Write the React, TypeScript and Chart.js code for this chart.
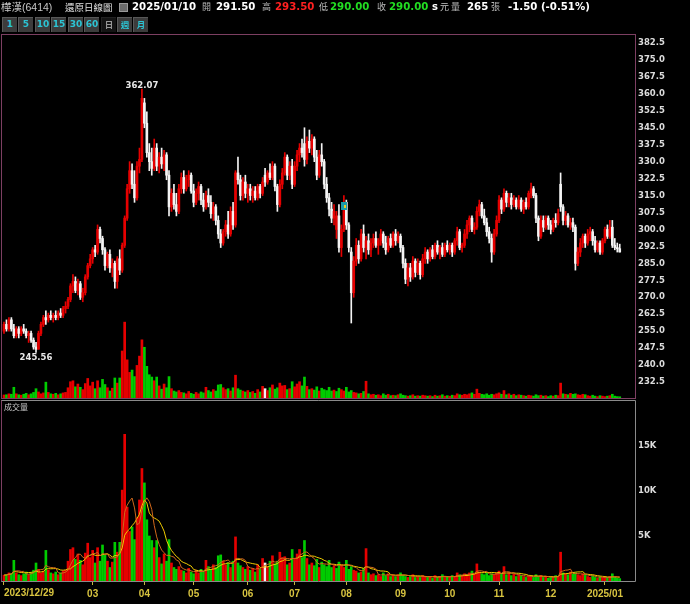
import React, { useEffect, useRef } from "react";
import { Chart, registerables } from "chart.js";

Chart.register(...registerables);

// ---------------- data ----------------
const MONTH_LABELS = ["2023/12/29", "", "", "03", "04", "05", "06", "07", "08", "09", "10", "11", "12", "2025/01"];
const MONTH_DAYS = [1, 22, 13, 21, 20, 22, 19, 21, 22, 20, 20, 21, 22, 7];

const OPEN = [
  255, 258, 256, 260, 256, 253, 256, 254, 256, 255,
  253, 254, 251, 248, 247, 254, 258, 261, 260, 262,
  261, 262, 261, 263, 262, 265, 266, 269, 275, 277,
  273, 276, 270, 272, 279, 284, 287, 291, 290, 300,
  296, 291, 284, 289, 283, 285, 277, 287, 282, 293,
  305, 318, 326, 320, 314, 328, 331, 356, 347, 334,
  330, 327, 336, 328, 332, 329, 333, 324, 310, 316,
  311, 308, 318, 323, 318, 322, 324, 317, 312, 316,
  319, 313, 310, 315, 312, 307, 310, 304, 298, 294,
  299, 302, 298, 308, 302, 325, 322, 315, 321, 316,
  318, 315, 317, 314, 319, 316, 324, 321, 325, 323,
  328, 319, 311, 320, 325, 332, 324, 328, 320, 328,
  333, 336, 338, 331, 339, 336, 340, 332, 324, 333,
  330, 320, 314, 309, 305, 300, 306, 292, 300, 312,
  302, 290, 272, 286, 293, 287, 298, 292, 295, 291,
  294, 296, 293, 295, 298, 294, 291, 296, 293, 298,
  295, 297, 292, 285, 278, 283, 279, 286, 281, 285,
  280, 287, 290, 287, 291, 288, 293, 290, 292, 289,
  293, 291, 293, 290, 295, 299, 292, 293, 298, 302,
  305, 300, 301, 308, 311, 306, 303, 299, 296, 290,
  298, 304, 313, 309, 316, 312, 314, 311, 313, 310,
  313, 309, 312, 310, 316, 318, 315, 305, 297, 304,
  301, 305, 302, 300, 304, 303, 320, 310, 304, 306,
  302, 303, 301, 285, 290, 294, 297, 294, 298, 299,
  295, 291, 294, 290, 295, 300, 297, 301, 293, 292,
  291.5,
];
const HIGH = [
  259, 260, 261, 261, 258, 257, 257, 257, 258, 256,
  255, 255, 252, 250, 255, 259, 262, 264, 263, 264,
  263, 264, 264, 265, 266, 268, 270, 276, 280, 279,
  278, 277, 274, 280, 285, 289, 292, 293, 302, 301,
  297, 292, 290, 291, 287, 286, 288, 291, 294, 306,
  320, 330, 329, 326, 330, 336, 362.07, 358, 352, 338,
  336, 340, 338, 334, 336, 335, 334, 326, 318, 320,
  316, 320, 325, 326, 324, 326, 325, 320, 318, 321,
  320, 316, 317, 318, 315, 312, 311, 306, 300, 300,
  304, 308, 310, 312, 326, 332, 324, 323, 324, 320,
  320, 319, 319, 320, 320, 323, 327, 326, 329, 330,
  329, 320, 322, 327, 334, 333, 330, 331, 330, 335,
  338, 340, 345, 341, 344, 342, 341, 335, 335, 338,
  331, 323, 316, 312, 311, 308, 311, 302, 315, 313,
  303, 292, 288, 296, 295, 300, 302, 297, 298, 296,
  298, 299, 296, 300, 299, 297, 297, 298, 299, 300,
  299, 298, 293, 287, 285, 285, 288, 287, 287, 286,
  289, 292, 291, 292, 293, 294, 295, 293, 294, 294,
  295, 294, 294, 296, 301, 300, 294, 300, 304, 306,
  306, 303, 310, 313, 312, 309, 305, 301, 298, 300,
  306, 315, 314, 318, 317, 316, 316, 315, 314, 315,
  314, 313, 314, 317, 320.5, 319, 316, 306, 306, 306,
  306, 306, 304, 305, 307, 309, 325, 311, 308, 307,
  305, 305, 302, 292, 296, 298, 298, 300, 301, 300,
  297, 295, 295, 296, 301, 302, 304, 304, 296, 294,
  293.5,
];
const LOW = [
  254, 255, 255, 255, 252, 252, 252, 253, 254, 252,
  250, 250, 247, 245.56, 247, 253, 257, 258, 259, 260,
  259, 260, 260, 261, 261, 263, 265, 268, 272, 272,
  271, 269, 268, 271, 278, 283, 285, 288, 289, 294,
  289, 282, 283, 281, 279, 274, 274, 280, 281, 292,
  304, 316, 318, 312, 313, 325, 330, 345, 332, 326,
  324, 326, 326, 325, 327, 326, 322, 306, 308, 309,
  306, 307, 316, 316, 317, 319, 316, 310, 311, 313,
  311, 308, 309, 310, 305, 304, 302, 296, 292, 293,
  297, 296, 297, 300, 301, 320, 313, 313, 314, 312,
  313, 312, 313, 313, 314, 315, 319, 320, 322, 322,
  317, 308, 310, 318, 324, 322, 322, 318, 319, 326,
  330, 332, 328, 329, 334, 333, 330, 322, 323, 328,
  318, 312, 306, 303, 302, 296, 290, 288, 299, 300,
  290, 258.6, 270, 284, 285, 286, 290, 287, 289, 288,
  292, 292, 289, 293, 292, 289, 290, 292, 292, 293,
  294, 290, 283, 276, 275, 277, 278, 279, 280, 278,
  279, 285, 285, 286, 287, 287, 289, 287, 288, 288,
  290, 289, 288, 289, 293, 291, 290, 292, 296, 299,
  299, 298, 300, 306, 305, 302, 297, 294, 285.5, 289,
  297, 303, 307, 308, 310, 310, 309, 310, 309, 309,
  308, 307, 309, 309, 314, 314, 303, 295, 296, 299,
  300, 300, 298, 299, 301, 302, 308, 302, 302, 301,
  300, 299, 282, 284, 288, 292, 292, 293, 295, 293,
  290, 290, 289, 289, 294, 296, 296, 292, 291, 290,
  290,
];
const CLOSE = [
  258, 256, 260, 256, 253, 256, 254, 256, 255, 253,
  254, 251, 248, 247, 254, 258, 261, 260, 262, 261,
  262, 261, 263, 262, 265, 266, 269, 275, 277, 273,
  276, 270, 272, 279, 284, 287, 291, 290, 300, 296,
  291, 284, 289, 283, 285, 277, 287, 282, 293, 305,
  318, 326, 320, 314, 328, 331, 358, 347, 334, 330,
  327, 336, 328, 332, 329, 333, 324, 310, 316, 311,
  308, 318, 323, 318, 322, 324, 317, 312, 316, 319,
  313, 310, 315, 312, 307, 310, 304, 298, 294, 299,
  302, 298, 308, 302, 325, 322, 315, 321, 316, 318,
  315, 317, 314, 319, 316, 321, 321, 325, 323, 328,
  319, 311, 320, 325, 332, 324, 328, 320, 328, 333,
  336, 334, 331, 339, 336, 340, 332, 324, 333, 330,
  320, 314, 309, 305, 308, 306, 292, 300, 312, 302,
  292, 272, 286, 293, 287, 298, 292, 295, 291, 294,
  296, 293, 295, 298, 294, 291, 296, 293, 298, 295,
  297, 292, 285, 278, 283, 279, 286, 281, 285, 280,
  287, 290, 287, 291, 288, 293, 290, 292, 289, 293,
  291, 293, 290, 295, 299, 292, 293, 298, 302, 305,
  300, 301, 308, 311, 306, 303, 299, 296, 290, 298,
  304, 313, 309, 316, 312, 314, 311, 313, 310, 313,
  309, 312, 310, 316, 318, 315, 305, 297, 304, 301,
  305, 302, 300, 304, 303, 307, 310, 304, 306, 302,
  303, 301, 285, 290, 294, 297, 294, 298, 299, 295,
  291, 294, 290, 295, 300, 297, 301, 293, 292, 291.5,
  290,
];
const VOLUME = [
  650, 700, 900, 800, 2300, 900, 700, 600, 800, 1000,
  700, 900, 1200, 2000, 1300, 900, 1100, 3400, 1200, 900,
  800, 1000, 700, 900, 1100, 1200, 2200, 3500, 3700, 2400,
  3000, 2300, 1800, 3100, 4200, 2600, 3400, 2000, 3700, 2200,
  4000, 2900, 2200, 1500, 2100, 4300, 3200, 4300, 10100, 16300,
  8200, 5500, 6000, 4600, 7000, 9000, 12500, 10900, 6800, 5000,
  4500, 3700, 4500, 2600, 1900, 3000, 2200, 4600, 2000, 1500,
  1300, 1600, 1200, 1100, 900, 1400, 1000, 800, 1200, 900,
  1300, 1100, 2300, 1600, 1300, 1800, 1500, 2800, 2900, 2200,
  1800, 2000, 1500, 2200, 4900, 2000, 1700, 1500, 1300, 1600,
  1200, 1400, 1000, 1800, 1300, 2500, 2000, 1600, 2200, 2800,
  1900, 2200, 3200, 2600, 2700, 1800, 2000, 3500, 2400, 3000,
  3500, 2600, 4500, 2500, 1800, 2000, 1700, 2400, 1500, 2100,
  1800, 1600, 2300, 1500, 1700, 1400, 2100, 1800, 1500, 2300,
  1300, 1600, 1200, 1100, 900, 1000, 1400, 3600, 900, 700,
  800, 600, 700, 500, 900, 600, 800, 500, 600, 500,
  700, 900, 600, 500, 400, 500, 700, 400, 500, 400,
  600, 500, 400, 500, 300, 600, 400, 500, 700, 400,
  500, 400, 600, 500, 900, 700, 600, 800, 700, 900,
  1100, 800, 1900, 1000, 800, 700, 900, 600, 800, 700,
  900, 1100, 800, 1600, 700, 900, 600, 800, 500, 700,
  600, 500, 400, 600, 500, 400, 700, 500, 600, 400,
  500, 300, 500, 400, 600, 500, 3200, 900, 800, 700,
  1000, 800, 900, 700, 600, 800, 700, 500, 400, 600,
  400, 300, 500, 400, 300, 400, 500, 800, 400, 300,
  265,
];

const PRICE_TICKS = [232.5, 240, 247.5, 255, 262.5, 270, 277.5, 285, 292.5, 300, 307.5, 315, 322.5, 330, 337.5, 345, 352.5, 360, 367.5, 375, 382.5];
const VOL_TICKS = [5000, 10000, 15000];
const VOL_TICK_LABELS = ["5K", "10K", "15K"];
const MA_PERIODS = [5, 10];
const EVENT_INDEX = 138;
const EVENT_PRICE = 310.5;

// ---------------- styling ----------------
const RED = "#e60000";
const WHITE = "#f4f4f4";
const GREEN = "#00cc00";
const MA_COLORS = ["#d0681c", "#f0cc00"];
const X_MIN = -0.81;
const X_MAX = 256.2;
const AXIS_FONT = { family: '"DejaVu Sans"', size: 8.5, weight: "bold" as const };

const candleColors = OPEN.map((o, i) => (CLOSE[i] > o ? RED : WHITE));
const volColors = VOLUME.map((_, i) => {
  const prev = i === 0 ? OPEN[0] : CLOSE[i - 1];
  if (CLOSE[i] > prev) return RED;
  if (CLOSE[i] < prev) return GREEN;
  return WHITE;
});

function movingAverage(values: number[], n: number) {
  return values.map((_, i) => {
    const from = Math.max(0, i - n + 1);
    const slice = values.slice(from, i + 1);
    return slice.reduce((a, b) => a + b, 0) / slice.length;
  });
}

const monthStarts: number[] = [];
{
  let acc = 0;
  for (const d of MONTH_DAYS) {
    monthStarts.push(acc);
    acc += d;
  }
}
const xTicks = monthStarts
  .map((s, k) => ({ value: s, label: MONTH_LABELS[k] }))
  .filter((t) => t.label !== "");

const mainDecor = {
  id: "mainDecor",
  afterDatasetsDraw(chart: any) {
    const { ctx, chartArea: a, scales } = chart;
    ctx.save();
    ctx.strokeStyle = "#7d3f62";
    ctx.lineWidth = 1;
    ctx.strokeRect(a.left - 0.5, a.top - 0.5, a.right - a.left + 1, a.bottom - a.top + 1);

    const hiIdx = HIGH.indexOf(Math.max(...HIGH));
    const loIdx = LOW.indexOf(Math.min(...LOW));
    ctx.font = 'bold 8.5px "DejaVu Sans"';
    ctx.fillStyle = "#e8e8e8";
    ctx.textAlign = "center";
    ctx.textBaseline = "alphabetic";
    ctx.fillText(HIGH[hiIdx].toFixed(2), scales.x.getPixelForValue(hiIdx), scales.y.getPixelForValue(HIGH[hiIdx]) - 1);
    ctx.fillText(LOW[loIdx].toFixed(2), scales.x.getPixelForValue(loIdx), scales.y.getPixelForValue(LOW[loIdx]) + 8);

    const ex = scales.x.getPixelForValue(EVENT_INDEX);
    const ey = scales.y.getPixelForValue(EVENT_PRICE);
    ctx.fillStyle = "#1a9cac";
    ctx.fillRect(Math.round(ex - 3), Math.round(ey - 4), 6, 8);
    ctx.fillStyle = "#e8d020";
    ctx.fillRect(Math.round(ex), Math.round(ey - 1), 2, 3);
    ctx.restore();
  },
};

const volDecor = {
  id: "volDecor",
  afterDraw(chart: any) {
    const { ctx, chartArea: a, scales } = chart;
    ctx.save();
    ctx.lineWidth = 1;
    ctx.strokeStyle = "#8a8a8a";
    ctx.beginPath();
    ctx.moveTo(a.left - 1, a.top - 0.5);
    ctx.lineTo(a.right + 0.5, a.top - 0.5);
    ctx.lineTo(a.right + 0.5, a.bottom + 0.5);
    ctx.lineTo(a.left - 1, a.bottom + 0.5);
    ctx.stroke();
    ctx.strokeStyle = "#7d3f62";
    ctx.beginPath();
    ctx.moveTo(a.left - 0.5, a.top - 0.5);
    ctx.lineTo(a.left - 0.5, a.bottom + 0.5);
    ctx.stroke();
    // first (left-aligned) date label
    ctx.font = 'bold 10px "Liberation Sans"';
    ctx.fillStyle = "#d8c440";
    ctx.textAlign = "left";
    ctx.textBaseline = "top";
    ctx.fillText(xTicks[0].label, scales.x.getPixelForValue(xTicks[0].value), a.bottom + 7);
    ctx.restore();
  },
};

export default function App() {
  const mainRef = useRef<HTMLCanvasElement>(null);
  const volRef = useRef<HTMLCanvasElement>(null);

  useEffect(() => {
    const idx = OPEN.map((_, i) => i);
    const main = new Chart(mainRef.current as HTMLCanvasElement, {
      type: "bar",
      data: {
        datasets: [
          {
            type: "bar",
            data: idx.map((i) => ({ x: i, y: [OPEN[i], CLOSE[i]] })) as any,
            backgroundColor: candleColors,
            barThickness: 2,
            minBarLength: 1,
            grouped: false,
            order: 1,
            yAxisID: "y",
          },
          {
            type: "bar",
            data: idx.map((i) => ({ x: i, y: [LOW[i], HIGH[i]] })) as any,
            backgroundColor: candleColors,
            barThickness: 1,
            grouped: false,
            order: 2,
            yAxisID: "y",
          },
          {
            type: "bar",
            data: idx.map((i) => ({ x: i, y: VOLUME[i] })) as any,
            backgroundColor: volColors,
            barThickness: 2,
            grouped: false,
            order: 3,
            yAxisID: "yv",
          },
        ],
      },
      options: {
        animation: false,
        responsive: false,
        maintainAspectRatio: false,
        layout: { padding: { left: 2, top: 35, bottom: 2, right: 0 } },
        plugins: { legend: { display: false }, tooltip: { enabled: false } },
        scales: {
          x: { type: "linear", min: X_MIN, max: X_MAX, offset: false, display: false, grid: { offset: false } },
          y: {
            position: "right",
            min: 225.42,
            max: 386.04,
            afterBuildTicks: (axis: any) => {
              axis.ticks = PRICE_TICKS.map((v) => ({ value: v }));
            },
            afterFit: (axis: any) => {
              axis.width = 55;
              axis.paddingTop = 0;
              axis.paddingBottom = 0;
            },
            grid: { display: false, drawTicks: false },
            border: { display: false },
            ticks: {
              color: "#dcdcdc",
              font: AXIS_FONT,
              padding: 3,
              autoSkip: false,
              callback: (v: any) => Number(v).toFixed(1),
            },
          },
          yv: { display: false, min: 0, max: 78000 },
        },
      } as any,
      plugins: [mainDecor],
    });

    const vol = new Chart(volRef.current as HTMLCanvasElement, {
      type: "bar",
      data: {
        datasets: [
          ...MA_PERIODS.map((n, k) => ({
            type: "line" as const,
            data: movingAverage(VOLUME, n).map((v, i) => ({ x: i, y: v })) as any,
            borderColor: MA_COLORS[k],
            borderWidth: 1,
            pointRadius: 0,
            tension: 0,
            order: 0,
          })),
          {
            type: "bar" as const,
            data: idx.map((i) => ({ x: i, y: VOLUME[i] })) as any,
            backgroundColor: volColors,
            barThickness: 2,
            grouped: false,
            order: 1,
          },
        ],
      },
      options: {
        animation: false,
        responsive: false,
        maintainAspectRatio: false,
        layout: { padding: { left: 2, top: 2, bottom: 0, right: 0 } },
        plugins: { legend: { display: false }, tooltip: { enabled: false } },
        scales: {
          x: {
            type: "linear",
            min: X_MIN,
            max: X_MAX,
            offset: false,
            position: "bottom",
            afterBuildTicks: (axis: any) => {
              axis.ticks = xTicks.map((t) => ({ value: t.value }));
            },
            afterFit: (axis: any) => {
              axis.height = 23;
              axis.paddingLeft = 0;
              axis.paddingRight = 0;
            },
            grid: { display: true, offset: false, drawOnChartArea: false, drawTicks: true, tickLength: 4, color: "#c8b440" },
            border: { display: false },
            ticks: {
              autoSkip: false,
              maxRotation: 0,
              minRotation: 0,
              padding: 3,
              color: "#d8c440",
              font: { family: '"Liberation Sans"', size: 10, weight: "bold" },
              callback: (_v: any, k: number) => (k === 0 ? "" : xTicks[k].label),
            },
          },
          y: {
            position: "right",
            min: 0,
            max: 20000,
            afterBuildTicks: (axis: any) => {
              axis.ticks = VOL_TICKS.map((v) => ({ value: v }));
            },
            afterFit: (axis: any) => {
              axis.width = 55;
              axis.paddingTop = 0;
              axis.paddingBottom = 0;
            },
            grid: { display: false, drawTicks: false },
            border: { display: false },
            ticks: {
              color: "#dcdcdc",
              font: AXIS_FONT,
              padding: 3,
              autoSkip: false,
              callback: (_v: any, k: number) => VOL_TICK_LABELS[k],
            },
          },
        },
      } as any,
      plugins: [volDecor],
    });

    return () => {
      main.destroy();
      vol.destroy();
    };
  }, []);

  const cjk = '"Noto Sans CJK TC", "Noto Sans CJK SC", sans-serif';
  const num = '"DejaVu Sans", sans-serif';
  const NS = 10.2;
  const headerItems: { left: number; text: string; color: string; font: string; size: number; bold?: boolean }[] = [
    { left: 1, text: "樺漢(6414)", color: "#c8c8c8", font: '"Liberation Sans", ' + cjk, size: 10.5 },
    { left: 65, text: "還原日線圖", color: "#e0e0e0", font: cjk, size: 9.5 },
    { left: 132, text: "2025/01/10", color: "#ffffff", font: num, size: NS, bold: true },
    { left: 202, text: "開", color: "#b8b8b8", font: cjk, size: 9 },
    { left: 216, text: "291.50", color: "#ffffff", font: num, size: NS, bold: true },
    { left: 262, text: "高", color: "#b8b8b8", font: cjk, size: 9 },
    { left: 275, text: "293.50", color: "#ff2020", font: num, size: NS, bold: true },
    { left: 319, text: "低", color: "#b8b8b8", font: cjk, size: 9 },
    { left: 330, text: "290.00", color: "#22dd22", font: num, size: NS, bold: true },
    { left: 377, text: "收", color: "#b8b8b8", font: cjk, size: 9 },
    { left: 389, text: "290.00", color: "#22dd22", font: num, size: NS, bold: true },
    { left: 432, text: "s", color: "#ffffff", font: num, size: 10, bold: true },
    { left: 440, text: "元", color: "#c8c8c8", font: cjk, size: 9 },
    { left: 451, text: "量", color: "#b8b8b8", font: cjk, size: 9 },
    { left: 467, text: "265", color: "#ffffff", font: num, size: NS, bold: true },
    { left: 491, text: "張", color: "#b8b8b8", font: cjk, size: 9 },
    { left: 508, text: "-1.50 (-0.51%)", color: "#ffffff", font: num, size: NS, bold: true },
  ];
  const buttons = [
    { left: 2, text: "1" },
    { left: 18, text: "5" },
    { left: 35, text: "10" },
    { left: 51, text: "15" },
    { left: 68, text: "30" },
    { left: 84, text: "60" },
    { left: 101, text: "日", active: true },
    { left: 117, text: "週" },
    { left: 133, text: "月" },
  ];

  return (
    <div style={{ position: "fixed", left: 0, top: 0, width: 690, height: 604, background: "#000", overflow: "hidden" }}>
      <canvas ref={mainRef} width={690} height={400} style={{ position: "absolute", left: 0, top: 0, width: 690, height: 400 }} />
      <canvas ref={volRef} width={690} height={205} style={{ position: "absolute", left: 0, top: 399, width: 690, height: 205 }} />
      {headerItems.map((h, k) => (
        <span
          key={k}
          style={{
            position: "absolute",
            left: h.left,
            top: 1,
            lineHeight: "12px",
            fontSize: h.size,
            fontFamily: h.font,
            fontWeight: h.bold ? "bold" : "normal",
            color: h.color,
            whiteSpace: "nowrap",
          }}
        >
          {h.text}
        </span>
      ))}
      <div
        style={{
          position: "absolute",
          left: 119,
          top: 3,
          width: 7,
          height: 7,
          background: "#6a6a6a",
          border: "1px solid #9a9a9a",
        }}
      />
      {buttons.map((b, k) => (
        <div
          key={k}
          style={{
            position: "absolute",
            left: b.left,
            top: 17,
            width: 15,
            height: 15,
            boxSizing: "border-box",
            background: b.active ? "#141414" : "#3c3c3c",
            borderTop: "1px solid " + (b.active ? "#222" : "#585858"),
            borderLeft: "1px solid " + (b.active ? "#222" : "#585858"),
            color: b.active ? "#9a9a9a" : "#2cc4d4",
            fontFamily: /[0-9]/.test(b.text) ? num : cjk,
            fontWeight: "bold",
            fontSize: /[0-9]/.test(b.text) ? 9 : 8.5,
            lineHeight: "13px",
            textAlign: "center",
          }}
        >
          {b.text}
        </div>
      ))}
      <span
        style={{
          position: "absolute",
          left: 4,
          top: 402,
          fontSize: 8,
          lineHeight: "10px",
          fontFamily: cjk,
          color: "#c8c8c8",
        }}
      >
        成交量
      </span>
    </div>
  );
}
